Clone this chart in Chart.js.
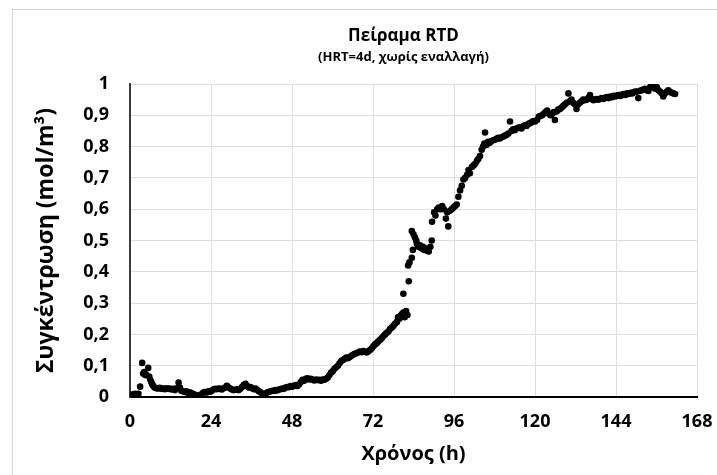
<!DOCTYPE html>
<html>
<head>
<meta charset="utf-8">
<script src="https://cdn.jsdelivr.net/npm/chart.js@4.4.0/dist/chart.umd.min.js"></script>
<style>
  html, body { margin: 0; padding: 0; background: #fff; }
  #wrap { position: relative; width: 717px; height: 475px; overflow: hidden; }
  #frame { position: absolute; left: 12px; top: 9px; width: 740px; height: 500px; border: 1px solid #d4d4d4; }
  #rtd { position: absolute; left: 0; top: 0; }
</style>
</head>
<body>
<div id="wrap">
  <div id="frame"></div>
  <canvas id="rtd" width="717" height="475"></canvas>
</div>
<script>
// time (h) and concentration (mol/m3)
const hours = [
  0, 0.5, 1, 1.5, 2, 2.5, 3.0, 3.6, 3.9, 4.2, 4.5, 4.8, 5.4, 5.7, 6.0, 6.3, 6.6, 6.9, 7.3, 7.8,
  8.3, 8.8, 9.3, 9.8, 10.3, 10.8, 11.3, 11.8, 12.3, 12.8, 13.3, 13.8, 14.4, 14.8, 15.2, 15.7, 16.2, 16.7, 17.2, 17.7,
  18.2, 18.7, 19.2, 19.7, 20.2, 20.7, 21.2, 21.7, 22.2, 22.7, 23.2, 23.7, 24.2, 24.7, 25.2, 25.7, 26.2, 26.7, 27.2, 27.7,
  28.2, 28.7, 29.2, 29.7, 30.2, 30.7, 31.2, 31.7, 32.2, 32.7, 33.2, 33.7, 34.2, 34.7, 35.2, 35.7, 36.2, 36.7, 37.2, 37.7,
  38.2, 38.7, 39.2, 39.6, 40.1, 40.6, 41.1, 41.6, 42.1, 42.6, 43.1, 43.6, 44.1, 44.6, 45.1, 45.6, 46.1, 46.6, 47.1, 47.6,
  48.1, 48.6, 49.1, 49.6, 50.1, 50.6, 51.1, 51.6, 52.1, 52.6, 53.1, 53.6, 54.1, 54.6, 55.1, 55.6, 56.1, 56.6, 57.1, 57.6,
  58.1, 58.6, 59.1, 59.6, 60.1, 60.6, 61.1, 61.6, 62.1, 62.6, 63.1, 63.6, 64.1, 64.6, 65.1, 65.6, 66.1, 66.6, 67.1, 67.6,
  68.1, 68.6, 69.1, 69.6, 70.1, 70.6, 71.1, 71.6, 72.1, 72.6, 73.1, 73.6, 74.1, 74.6, 75.1, 75.6, 76.1, 76.6, 77.1, 77.6,
  78.1, 78.6, 79.1, 79.4, 79.8, 80.2, 80.6, 81.0, 81.4, 81.8, 82.2, 81.0, 82.6, 82.4, 82.8, 83.5, 83.8, 83.5, 84.0, 84.4,
  84.8, 85.0, 85.4, 85.9, 86.3, 86.8, 87.2, 87.6, 88.0, 88.5, 89.0, 89.4, 89.5, 90.1, 90.5, 91.0, 91.5, 92.0, 92.5, 93.0,
  93.6, 94.3, 94.0, 94.8, 95.3, 95.8, 96.3, 96.8, 97.3, 97.8, 98.3, 98.8, 99.3, 99.9, 100.3, 100.7, 101.3, 101.8, 102.3, 102.8,
  103.2, 103.7, 104.2, 104.6, 105.0, 105.2, 105.6, 106.1, 106.6, 107.1, 107.6, 108.1, 108.6, 109.1, 109.6, 110.1, 110.6, 111.1, 111.6, 112.1,
  112.6, 113.0, 113.5, 114.0, 114.5, 115.0, 115.5, 116.0, 116.5, 117.0, 117.5, 118.0, 118.5, 119.0, 119.5, 120.0, 120.6, 121.1, 121.6, 122.1,
  122.6, 123.1, 123.6, 124.1, 124.6, 125.1, 125.6, 125.9, 126.4, 126.9, 127.4, 127.9, 128.4, 128.9, 129.4, 129.9, 130.3, 130.8, 131.3, 131.8,
  132.3, 132.8, 133.3, 133.8, 134.3, 134.8, 135.3, 135.8, 136.3, 136.8, 137.3, 137.8, 138.3, 138.8, 139.3, 139.8, 140.3, 140.8, 141.3, 141.8,
  142.3, 142.8, 143.3, 143.8, 144.3, 144.8, 145.3, 145.8, 146.3, 146.8, 147.3, 147.8, 148.3, 148.8, 149.3, 149.8, 150.1, 150.6, 151.1, 151.6,
  152.1, 152.6, 153.1, 153.6, 154.1, 154.6, 155.1, 155.6, 156.1, 156.6, 157.1, 157.6, 158.0, 158.5, 159.0, 159.5, 160.0, 160.5, 161.0, 161.5
];
const conc = [
  0.005, 0.008, 0.006, 0.010, 0.007, 0.010, 0.033, 0.109, 0.075, 0.080, 0.070, 0.072, 0.093, 0.065, 0.055, 0.048, 0.040, 0.035, 0.030, 0.028,
  0.027, 0.029, 0.026, 0.027, 0.025, 0.028, 0.026, 0.027, 0.024, 0.026, 0.022, 0.028, 0.046, 0.030, 0.020, 0.018, 0.016, 0.018, 0.013, 0.015,
  0.012, 0.010, 0.007, 0.004, 0.003, 0.006, 0.009, 0.014, 0.016, 0.014, 0.018, 0.017, 0.020, 0.024, 0.026, 0.025, 0.027, 0.026, 0.024, 0.028,
  0.030, 0.036, 0.030, 0.027, 0.024, 0.022, 0.023, 0.025, 0.022, 0.026, 0.032, 0.038, 0.042, 0.035, 0.030, 0.032, 0.028, 0.025, 0.027, 0.022,
  0.018, 0.015, 0.010, 0.006, 0.010, 0.014, 0.016, 0.018, 0.020, 0.019, 0.022, 0.021, 0.024, 0.025, 0.027, 0.026, 0.030, 0.032, 0.031, 0.035,
  0.033, 0.036, 0.038, 0.035, 0.040, 0.048, 0.055, 0.052, 0.058, 0.060, 0.056, 0.058, 0.055, 0.053, 0.056, 0.054, 0.055, 0.052, 0.056, 0.055,
  0.058, 0.062, 0.070, 0.078, 0.083, 0.090, 0.095, 0.100, 0.108, 0.115, 0.118, 0.122, 0.126, 0.124, 0.128, 0.132, 0.135, 0.138, 0.140, 0.142,
  0.145, 0.143, 0.147, 0.145, 0.142, 0.145, 0.150, 0.155, 0.162, 0.168, 0.172, 0.178, 0.183, 0.188, 0.195, 0.200, 0.205, 0.210, 0.218, 0.222,
  0.228, 0.235, 0.240, 0.255, 0.250, 0.260, 0.265, 0.270, 0.255, 0.275, 0.262, 0.330, 0.370, 0.420, 0.430, 0.445, 0.470, 0.530, 0.520, 0.510,
  0.500, 0.490, 0.480, 0.485, 0.475, 0.480, 0.470, 0.475, 0.468, 0.465, 0.480, 0.500, 0.560, 0.590, 0.580, 0.600, 0.605, 0.600, 0.610, 0.600,
  0.570, 0.545, 0.590, 0.595, 0.600, 0.605, 0.610, 0.615, 0.640, 0.660, 0.675, 0.695, 0.700, 0.710, 0.725, 0.715, 0.735, 0.740, 0.745, 0.755,
  0.760, 0.770, 0.790, 0.800, 0.810, 0.845, 0.805, 0.815, 0.812, 0.818, 0.820, 0.822, 0.825, 0.828, 0.826, 0.830, 0.832, 0.835, 0.838, 0.842,
  0.880, 0.850, 0.855, 0.852, 0.858, 0.860, 0.862, 0.858, 0.865, 0.868, 0.866, 0.872, 0.875, 0.878, 0.882, 0.880, 0.885, 0.895, 0.898, 0.900,
  0.905, 0.910, 0.915, 0.905, 0.900, 0.905, 0.910, 0.885, 0.912, 0.918, 0.920, 0.925, 0.930, 0.935, 0.940, 0.970, 0.945, 0.950, 0.940, 0.935,
  0.920, 0.935, 0.940, 0.945, 0.950, 0.948, 0.950, 0.955, 0.965, 0.952, 0.948, 0.950, 0.952, 0.950, 0.953, 0.955, 0.952, 0.956, 0.958, 0.955,
  0.960, 0.958, 0.962, 0.960, 0.963, 0.965, 0.962, 0.966, 0.968, 0.965, 0.970, 0.968, 0.972, 0.970, 0.974, 0.976, 0.975, 0.955, 0.978, 0.980,
  0.982, 0.985, 0.980, 0.978, 0.990, 1.000, 0.995, 0.985, 0.990, 0.980, 0.975, 0.970, 0.960, 0.970, 0.975, 0.980, 0.975, 0.972, 0.970, 0.968
];
const xTicks = [0, 24, 48, 72, 96, 120, 144, 168];
const yTickLabels = ['0', '0,1', '0,2', '0,3', '0,4', '0,5', '0,6', '0,7', '0,8', '0,9', '1'];

const FONT = "'Open Sans', 'Noto Sans', sans-serif";

const points = hours.map((h, i) => ({ x: h, y: conc[i] }));

// the titles sit a little left of the plot centre in the original
const shiftTitles = {
  id: 'shiftTitles',
  afterLayout(chart) {
    chart.boxes
      .filter(b => !b.axis && b.position === 'top' && b.options && typeof b.options.text === 'string')
      .forEach(b => {
        b.left -= 10;
        b.right -= 10;
      });
  }
};

new Chart(document.getElementById('rtd').getContext('2d'), {
  type: 'scatter',
  data: {
    datasets: [{
      label: 'RTD',
      data: points,
      pointRadius: 3.3,
      pointBorderWidth: 0,
      backgroundColor: '#000',
      borderColor: '#000'
    }]
  },
  options: {
    responsive: false,
    animation: false,
    layout: { padding: { left: 0, right: 20, top: 0, bottom: 0 } },
    scales: {
      x: {
        type: 'linear',
        min: xTicks[0],
        max: xTicks[xTicks.length - 1],
        afterBuildTicks: s => { s.ticks = xTicks.map(v => ({ value: v })); },
        afterFit: s => {
          s.height = 78;
          s.paddingLeft = 0;
          s.paddingRight = 20; // keep the plot's right edge at 168h ~ x=697
        },
        grid: { color: '#dedede', lineWidth: 1, drawTicks: false },
        border: { color: '#000', width: 2 },
        ticks: { color: '#000', padding: 14, font: { family: FONT, size: 18, weight: 'bold' } },
        title: {
          display: true,
          text: 'Χρόνος (h)',
          color: '#000',
          padding: { top: 0, bottom: 9 },
          font: { family: FONT, size: 20, weight: 'bold' }
        }
      },
      y: {
        min: 0,
        max: 1,
        ticks: {
          stepSize: 0.1,
          color: '#000',
          padding: 21,
          font: { family: FONT, size: 18, weight: 'bold' },
          callback: (v, i) => yTickLabels[i]
        },
        afterFit: s => { s.width = 130; },
        grid: { color: '#dedede', lineWidth: 1, drawTicks: false },
        border: { color: '#3a3a3a', width: 2 },
        title: {
          display: true,
          text: 'Συγκέντρωση (mol/m³)',
          color: '#000',
          padding: { top: 33, bottom: 0 },
          font: { family: FONT, size: 23, weight: 'bold' }
        }
      }
    },
    plugins: {
      legend: { display: false },
      tooltip: { enabled: false },
      title: {
        display: true,
        fullSize: false,
        text: 'Πείραμα RTD',
        color: '#000',
        padding: { top: 26, bottom: 0 },
        font: { family: FONT, size: 17, weight: 'bold' }
      },
      subtitle: {
        display: true,
        fullSize: false,
        text: '(HRT=4d, χωρίς εναλλαγή)',
        color: '#000',
        padding: { top: 3, bottom: 19 },
        font: { family: FONT, size: 13, weight: 'bold' }
      }
    }
  },
  plugins: [shiftTitles]
});
</script>
</body>
</html>
